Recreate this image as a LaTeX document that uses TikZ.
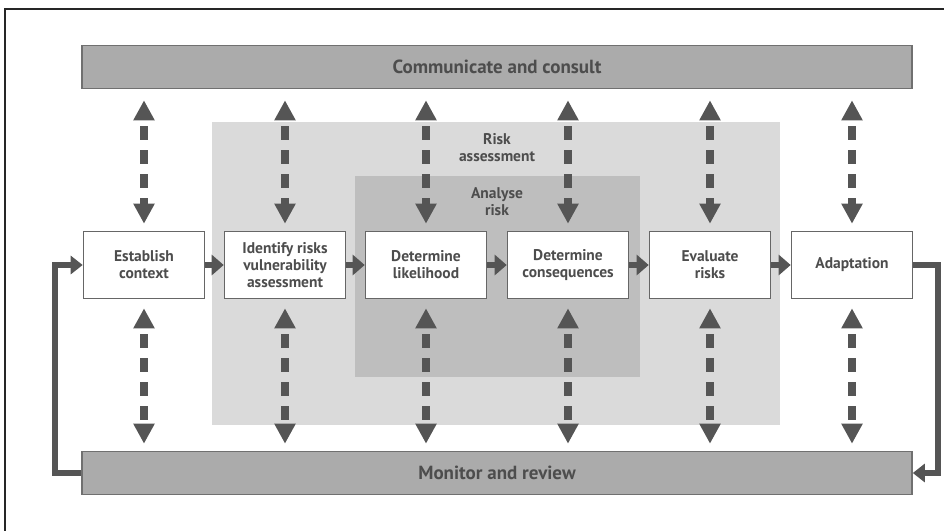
\documentclass[tikz,border=0pt]{standalone}
\usepackage{fontspec}
\setmainfont{PT Sans}
\usetikzlibrary{arrows.meta}
\definecolor{ink}{HTML}{4D4D4D}
\definecolor{arrowgrey}{HTML}{555555}
\definecolor{barfill}{HTML}{ABABAB}
\definecolor{barline}{HTML}{707070}
\definecolor{assessfill}{HTML}{DADADA}
\definecolor{analysefill}{HTML}{BEBEBE}
\definecolor{boxline}{HTML}{666666}
\begin{document}
\begin{tikzpicture}[x=1pt,y=-1pt,
  every node/.style={font=\bfseries\fontsize{15.5}{17}\selectfont, text=ink, inner sep=0pt},
  bar/.style={draw=barline, fill=barfill, line width=1.6pt, minimum width=830pt, minimum height=43pt,
    font=\bfseries\fontsize{19}{21}\selectfont},
  stepbox/.style={draw=boxline, fill=white, line width=1.6pt, minimum width=121pt, minimum height=67pt, align=center},
  flow/.style={draw=arrowgrey, line width=6pt, -{Triangle[length=12pt,width=20pt]}},
  link/.style={draw=arrowgrey, line width=7.5pt, dash pattern=on 14pt off 10pt, dash phase=17pt,
    {Triangle[length=20pt,width=20pt]}-{Triangle[length=20pt,width=20pt]}},
  loop/.style={draw=arrowgrey, line width=5.5pt, -{Triangle[length=12pt,width=18pt]}}
]
\useasboundingbox (0,0) rectangle (944,531);
% page frame (top and left edges)
\draw[line width=1.2pt, black!85] (944,9) -- (5,9) -- (5,531);

% nested shaded zones
\fill[assessfill] (212,122) rectangle (780,425);
\fill[analysefill] (355,176) rectangle (640,377);
\node[align=center] (assesslbl) at (497,148) {Risk\\assessment};
\node[align=center] (analyselbl) at (497,202) {Analyse\\risk};

% communication and monitoring bars
\node[bar] (comm) at (497,67) {Communicate and consult};
\node[bar] (mon) at (497,473) {Monitor and review};

% process steps
\node[stepbox] (est) at (144,265) {Establish\\context};
\node[stepbox] (ident) at (285,265) {Identify risks\\vulnerability\\assessment};
\node[stepbox] (like) at (426,265) {Determine\\likelihood};
\node[stepbox] (cons) at (568,265) {Determine\\consequences};
\node[stepbox] (eval) at (710,265) {Evaluate\\risks};
\node[stepbox] (adapt) at (852,265) {Adaptation};

% flow between steps
\draw[flow] (est) -- (ident);
\draw[flow] (ident) -- (like);
\draw[flow] (like) -- (cons);
\draw[flow] (cons) -- (eval);
\draw[flow] (eval) -- (adapt);

% two-way links to the bars
\foreach \n in {est,ident,like,cons,eval,adapt}{
  \draw[link, shorten <=11pt, shorten >=7pt] (comm.south -| \n) -- (\n.north);
  \draw[link, shorten <=9pt, shorten >=7pt] (\n.south) -- (mon.north -| \n);
}

% feedback loop
\coordinate (lb) at (55,473);
\coordinate (lt) at (55,265);
\coordinate (rt) at (938,265);
\coordinate (rb) at (938,473);
\draw[loop] (mon.west) -- (lb) -- (lt) -- (est.west);
\draw[loop] (adapt.east) -- (rt) -- (rb) -- (mon.east);
\end{tikzpicture}
\end{document}
